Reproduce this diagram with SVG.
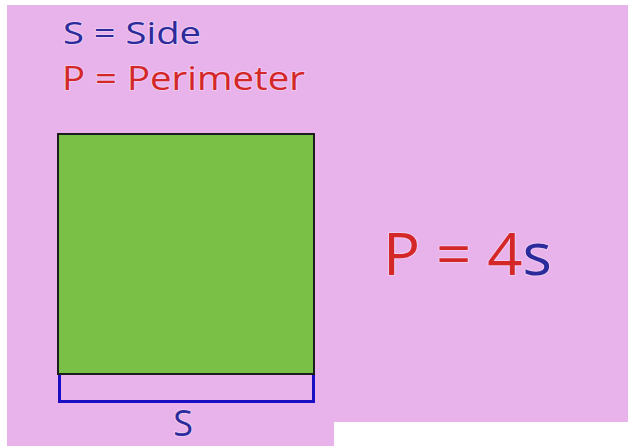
<svg xmlns="http://www.w3.org/2000/svg" width="628" height="446" viewBox="0 0 628 446">
<style>
.t{font-family:"Open Sans","Noto Sans","Liberation Sans",sans-serif;paint-order:stroke;stroke:#ffffff;stroke-opacity:0.3;stroke-width:2;stroke-linejoin:round}
.blue{fill:#2B2B9C}
.red{fill:#D42828}
</style>
<rect x="0" y="0" width="628" height="446" fill="#ffffff"/>
<path d="M7,5 H628 V422 H334 V446 H7 Z" fill="#E8B3EB"/>
<g id="legend">
<text class="t blue" x="63" y="44" font-size="31" textLength="138" lengthAdjust="spacingAndGlyphs">S = Side</text>
<text class="t red" x="62" y="90" font-size="33" textLength="243" lengthAdjust="spacingAndGlyphs">P = Perimeter</text>
</g>
<g id="square">
<rect x="58" y="134" width="256" height="240" fill="#7AC046" stroke="#1C1C1C" stroke-width="2"/>
</g>
<g id="connectors">
<path d="M59.5,375 V401.5 H313.5 V375" fill="none" stroke="#1A0DC4" stroke-width="3"/>
</g>
<g id="side-label">
<text class="t blue" x="183" y="436" font-size="36" text-anchor="middle">S</text>
</g>
<g id="formula">
<text class="t" x="383" y="275" font-size="59" textLength="169" lengthAdjust="spacingAndGlyphs"><tspan class="red">P = 4</tspan><tspan class="blue">s</tspan></text>
</g>
</svg>
